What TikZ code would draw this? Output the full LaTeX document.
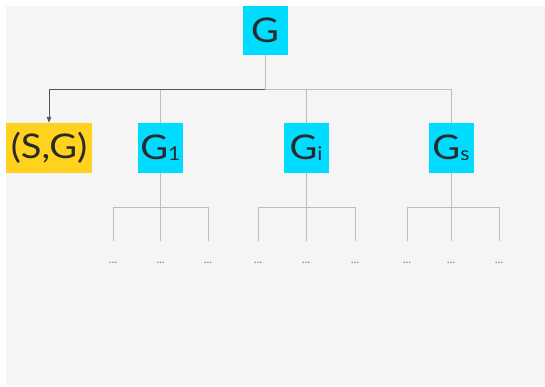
\documentclass[tikz,border=0pt]{standalone}
\usepackage{fontspec}
\setmainfont{Lato}
\newfontfamily\boxfont{Lato}[FakeStretch=1.12]
\usetikzlibrary{arrows.meta}
\definecolor{bgc}{HTML}{F5F5F5}
\definecolor{cyanbox}{HTML}{00DCFF}
\definecolor{yelbox}{HTML}{FFD21E}
\definecolor{inkc}{HTML}{2A2A2A}
\definecolor{linec}{HTML}{BDBDBD}
\definecolor{darkc}{HTML}{555555}
\tikzset{
  graph node/.style={rectangle, fill=cyanbox, text=inkc, inner sep=0pt,
    minimum width=45pt, minimum height=50pt, font=\boxfont\fontsize{34}{34}\selectfont},
  goal node/.style={graph node, fill=yelbox, minimum width=86pt},
  tree line/.style={draw=linec, line width=0.8pt},
  path line/.style={draw=darkc, line width=0.9pt},
  leaf dots/.style={text=linec!70!black, font=\fontsize{12}{12}\selectfont, inner sep=0pt},
}
\newcommand{\sub}[1]{\raisebox{-1pt}{\fontsize{19}{19}\selectfont #1}}
\begin{document}
\begin{tikzpicture}[x=1pt,y=-1pt]
  \useasboundingbox (0,0) rectangle (545,386);
  \fill[bgc] (6,6) rectangle (545,385);

  % root and first level
  \node[graph node, minimum height=49pt] (G) at (265,30.5) {G};
  \node[goal node] (SG) at (49,148) {(S,G)};
  \node[graph node] (G1) at (160.5,148) {G\sub{1}};
  \node[graph node] (Gi) at (306,148) {G\sub{i}};
  \node[graph node] (Gs) at (451,148) {G\sub{s}};

  \coordinate (j) at (265,89);
  \draw[tree line] (G.south) -- (j);
  \draw[tree line] (j) -| (Gs.north);
  \draw[tree line] (j -| Gi.north) -- (Gi.north);
  \draw[tree line] (j -| G1.north) -- (G1.north);
  \draw[path line, -{Triangle[length=6pt,width=4.5pt]}] (j) -| (SG.north);

  % second level stubs
  \foreach \n/\l/\r in {G1/113/208, Gi/258/355, Gs/407/499}{
    \coordinate (\n-l) at (\l,207);
    \coordinate (\n-r) at (\r,207);
    \coordinate (\n-l-end) at (\l,241);
    \coordinate (\n-m-end) at (\n.south |- 0,241);
    \coordinate (\n-r-end) at (\r,241);
    \draw[tree line] (\n.south) -- (\n-m-end);
    \draw[tree line] (\n-l-end) -- (\n-l) -- (\n-r) -- (\n-r-end);
    \node[leaf dots] (\n-dl) at (\l,263) {...};
    \node[leaf dots] (\n-dm) at (\n.south |- 0,263) {...};
    \node[leaf dots] (\n-dr) at (\r,263) {...};
  }
\end{tikzpicture}
\end{document}
